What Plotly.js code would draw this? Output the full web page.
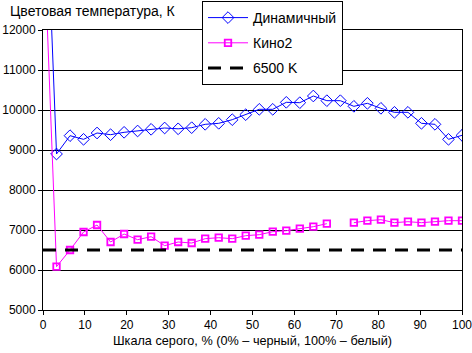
<!DOCTYPE html>
<html><head><meta charset="utf-8">
<script src="https://cdn.plot.ly/plotly-3.0.1.min.js"></script>
<style>body{margin:0;background:#fff}#c{width:472px;height:353px}</style>
</head><body><div id="c"></div>
<script>
var xSteps = [];
for (var i = 0; i <= 31; i++) xSteps.push(i * 100 / 31);
var dynamicValues = [17600, 8900, 9358, 9267, 9425, 9383, 9442, 9475, 9517, 9550, 9530, 9558, 9642, 9667, 9758, 9883, 10017, 10017, 10192, 10183, 10350, 10233, 10233, 10092, 10167, 10042, 9942, 9942, 9667, 9642, 9267, 9367];
var kino2Values = [14900, 6083, 6500, 6950, 7125, 6700, 6900, 6758, 6833, 6608, 6700, 6675, 6783, 6808, 6783, 6858, 6883, 6958, 6983, 7033, 7083, 7158, null, 7183, 7233, 7258, 7183, 7208, 7183, 7208, 7233, 7233];
var refX = [0, 100];
var refY = [6500, 6500];
var seriesNames = ['Динамичный', 'Кино2', '6500 K'];
var xTicks = [0,10,20,30,40,50,60,70,80,90,100];
var yTicks = [5000,6000,7000,8000,9000,10000,11000,12000];

var F = 'Liberation Sans, Arial, sans-serif';
var traces = [
  {x: xSteps, y: dynamicValues, name: seriesNames[0], mode: 'lines+markers', legendgroup:'a',
   line: {color: '#0000FF', width: 1}, marker: {symbol: 'diamond-open', size: 9, color: '#0000FF', line:{width:1}}},
  {x: xSteps, y: kino2Values, name: seriesNames[1], mode: 'lines+markers', legendgroup:'b', connectgaps:false,
   line: {color: '#FF00FF', width: 1}, marker: {symbol: 'square-open', size: 6.5, color: '#FF00FF', line:{width:1.8}}},
  {x: refX, y: refY, name: seriesNames[2], mode: 'lines', legendgroup:'c',
   line: {color: '#000000', width: 3, dash: '13px,9px'}}
];
var layout = {
  width: 472, height: 353,
  margin: {l: 43, r: 10, t: 30, b: 43, pad: 0, autoexpand: false},
  paper_bgcolor: '#fff', plot_bgcolor: '#fff',
  font: {family: F, size: 12, color: '#000'},
  title: {text: 'Цветовая температура, К', x: 10/472, xanchor: 'left', xref: 'container',
          y: 1 - 11/353, yanchor: 'middle', yref: 'container', font: {family: F, size: 14, color:'#000'}},
  showlegend: true,
  legend: {x: 202/472, xref: 'container', xanchor: 'left', y: 1 - 1/353, yref: 'container', yanchor: 'top', bgcolor: '#fff',
           bordercolor: '#000', borderwidth: 1, traceorder: 'grouped', tracegroupgap: 4, itemwidth: 40,
           font: {family: F, size: 14, color: '#000'}},
  xaxis: {range: [0, 100], tickvals: xTicks, ticktext: xTicks.map(String), showgrid: false, zeroline: false,
          showline: true, linecolor: '#000', linewidth: 1, mirror: true, ticks: 'outside', ticklen: 4, tickcolor: '#000',
          tickfont: {family: F, size: 12}, fixedrange: true, ticklabeloverflow: 'allow',
          title: {text: 'Шкала серого, % (0% – черный, 100% – белый)', font: {family: F, size: 12.7}, standoff: 4}},
  yaxis: {range: [5000, 12000], tickvals: yTicks, ticktext: yTicks.map(String), showgrid: true, gridcolor: '#000', gridwidth: 1,
          zeroline: false, showline: true, linecolor: '#000', linewidth: 1, mirror: true,
          ticks: 'outside', ticklen: 4, tickcolor: '#000', tickfont: {family: F, size: 12}, fixedrange: true}
};
Plotly.newPlot('c', traces, layout, {staticPlot: true});
</script></body></html>
